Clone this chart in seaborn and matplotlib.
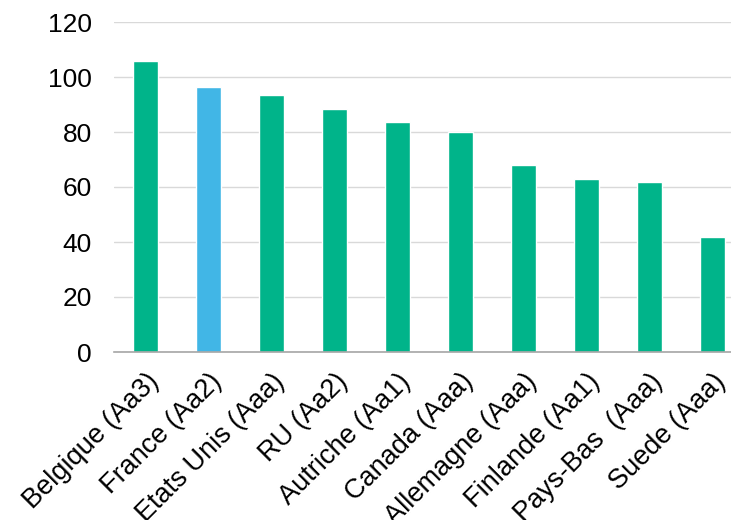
import matplotlib
matplotlib.use("Agg")
import matplotlib.pyplot as plt
import seaborn as sns
import pandas as pd

# données
pays = ['Belgique (Aa3)', 'France (Aa2)', 'Etats Unis (Aaa)', 'RU (Aa2)', 'Autriche (Aa1)',
        'Canada (Aaa)', 'Allemagne (Aaa)', 'Finlande (Aa1)', 'Pays-Bas  (Aaa)', 'Suede (Aaa)']
valeurs = [105.8, 96.4, 93.5, 88.4, 83.6, 80.0, 68.0, 63.0, 61.8, 41.8]
couleurs = ['#00B48A', '#41B6E6', '#00B48A', '#00B48A', '#00B48A',
            '#00B48A', '#00B48A', '#00B48A', '#00B48A', '#00B48A']

df = pd.DataFrame({'pays': pays, 'valeur': valeurs})

sns.set_style('white')
plt.rcParams['font.family'] = ['Liberation Sans', 'DejaVu Sans']

fig = plt.figure(figsize=(7.31, 5.2), dpi=100)
ax = fig.add_axes([114 / 731, 168 / 520, 630 / 731, 330 / 520])

sns.barplot(data=df, x='pays', y='valeur', hue='pays', palette=couleurs,
            legend=False, width=0.41, saturation=1, ax=ax)

ax.set_ylim(0, 120)
ax.set_yticks(range(0, 121, 20))
ax.yaxis.grid(True, color='#d9d9d9', linewidth=1)
ax.set_axisbelow(True)
for s in ['left', 'right', 'top']:
    ax.spines[s].set_visible(False)
ax.spines['bottom'].set_color('#a6a6a6')
ax.spines['bottom'].set_linewidth(1.2)
ax.set_xlabel('')
ax.set_ylabel('')
ax.tick_params(axis='both', length=0, labelsize=19.5, colors='black')
ax.tick_params(axis='y', pad=16, labelsize=19)
ax.tick_params(axis='x', pad=12)
plt.setp(ax.get_xticklabels(), rotation=45, ha='right', rotation_mode='anchor')

fig.savefig('out.png', dpi=100)
